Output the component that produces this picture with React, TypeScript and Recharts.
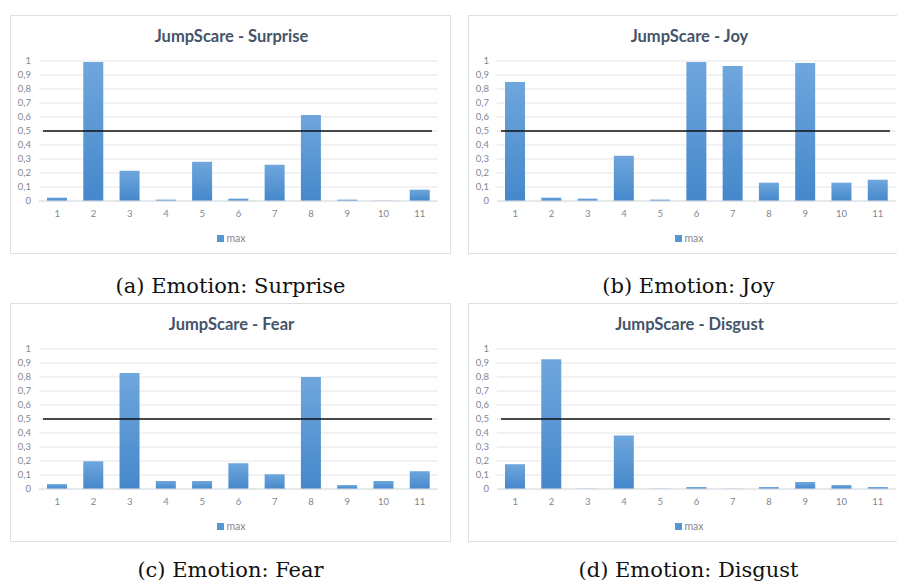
import { BarChart, Bar, XAxis, YAxis, CartesianGrid, ReferenceLine } from 'recharts';

const categories = ['1', '2', '3', '4', '5', '6', '7', '8', '9', '10', '11'];
const surprise = [0.024, 0.993, 0.216, 0.01, 0.28, 0.017, 0.259, 0.615, 0.01, 0.002, 0.081];
const joy = [0.85, 0.024, 0.017, 0.323, 0.01, 0.993, 0.964, 0.131, 0.986, 0.131, 0.152];
const fear = [0.035, 0.198, 0.828, 0.057, 0.057, 0.184, 0.106, 0.8, 0.028, 0.057, 0.127];
const disgust = [0.177, 0.927, 0.002, 0.382, 0.002, 0.014, 0.002, 0.014, 0.05, 0.028, 0.014];
const yTicks = [0, 0.1, 0.2, 0.3, 0.4, 0.5, 0.6, 0.7, 0.8, 0.9, 1];
const threshold = 0.5;

const PANEL_W = 441;
const PANEL_H = 239;

const tickStyle = { fill: '#7f8790', fontSize: 9.5, fontFamily: 'Lato' };

interface PanelProps {
  id: string;
  title: string;
  values: number[];
  caption: string;
  left: number;
  top: number;
  captionGap: number;
}

const Panel = ({ id, title, values, caption, left, top, captionGap }: PanelProps) => {
  const data = categories.map((c, i) => ({ name: c, max: values[i] }));
  return (
    <>
      <div
        style={{
          position: 'absolute',
          left,
          top,
          width: PANEL_W,
          height: PANEL_H,
          border: '1px solid #dcdfe3',
          boxSizing: 'border-box',
          background: '#fff',
        }}
      >
        <div
          style={{
            position: 'absolute',
            left: 0,
            width: PANEL_W,
            top: 10,
            textAlign: 'center',
            fontFamily: 'Lato',
            fontWeight: 700,
            fontSize: 16.5,
            color: '#44546a',
          }}
        >
          {title}
        </div>
        <div style={{ position: 'absolute', left: -1, top: -1 }}>
          <BarChart width={PANEL_W} height={PANEL_H} data={data} margin={{ top: 46, right: 13, bottom: 33, left: 0 }}>
            <defs>
              <linearGradient id={`grad-${id}`} x1="0" y1="0" x2="0" y2="1">
                <stop offset="0%" stopColor="#6fa6dd" />
                <stop offset="100%" stopColor="#4588cb" />
              </linearGradient>
            </defs>
            <CartesianGrid vertical={false} stroke="#e4e6e9" />
            <XAxis
              dataKey="name"
              height={20}
              axisLine={{ stroke: '#dadde1' }}
              tickLine={false}
              tickMargin={3}
              tick={tickStyle}
              interval={0}
            />
            <YAxis
              width={29}
              domain={[0, 1]}
              ticks={yTicks}
              interval={0}
              axisLine={false}
              tickLine={false}
              tick={tickStyle}
              tickFormatter={(v: number) => String(v).replace('.', ',')}
            />
            <Bar dataKey="max" barSize={20} fill={`url(#grad-${id})`} isAnimationActive={false} />
            <ReferenceLine
              y={threshold}
              shape={(p: any) => (
                <line x1={p.x1 + 4} y1={p.y1} x2={p.x2 - 6} y2={p.y2} stroke="#111" strokeWidth={1.5} />
              )}
            />
          </BarChart>
        </div>
        <div
          style={{
            position: 'absolute',
            left: 0,
            width: PANEL_W,
            top: 216,
            display: 'flex',
            justifyContent: 'center',
            alignItems: 'center',
            fontFamily: 'Lato',
            fontSize: 10.5,
            color: '#7f8790',
          }}
        >
          <span style={{ display: 'inline-block', width: 7, height: 7, background: '#5596d5', marginRight: 2 }} />
          max
        </div>
      </div>
      <div
        style={{
          position: 'absolute',
          left,
          width: PANEL_W,
          top: top + captionGap,
          textAlign: 'center',
          fontFamily: 'DejaVu Serif',
          fontSize: 21,
          lineHeight: '24px',
          color: '#111',
          whiteSpace: 'nowrap',
        }}
      >
        {caption}
      </div>
    </>
  );
};

const App = () => (
  <div
    style={{
      position: 'fixed',
      left: 0,
      top: 0,
      width: 897,
      height: 584,
      overflow: 'hidden',
      background: '#fff',
    }}
  >
    <Panel id="a" title="JumpScare - Surprise" values={surprise} caption="(a) Emotion: Surprise" left={10} top={15} captionGap={259} />
    <Panel id="b" title="JumpScare - Joy" values={joy} caption="(b) Emotion: Joy" left={468} top={15} captionGap={259} />
    <Panel id="c" title="JumpScare - Fear" values={fear} caption="(c) Emotion: Fear" left={10} top={303} captionGap={255} />
    <Panel id="d" title="JumpScare - Disgust" values={disgust} caption="(d) Emotion: Disgust" left={468} top={303} captionGap={255} />
  </div>
);

export default App;
